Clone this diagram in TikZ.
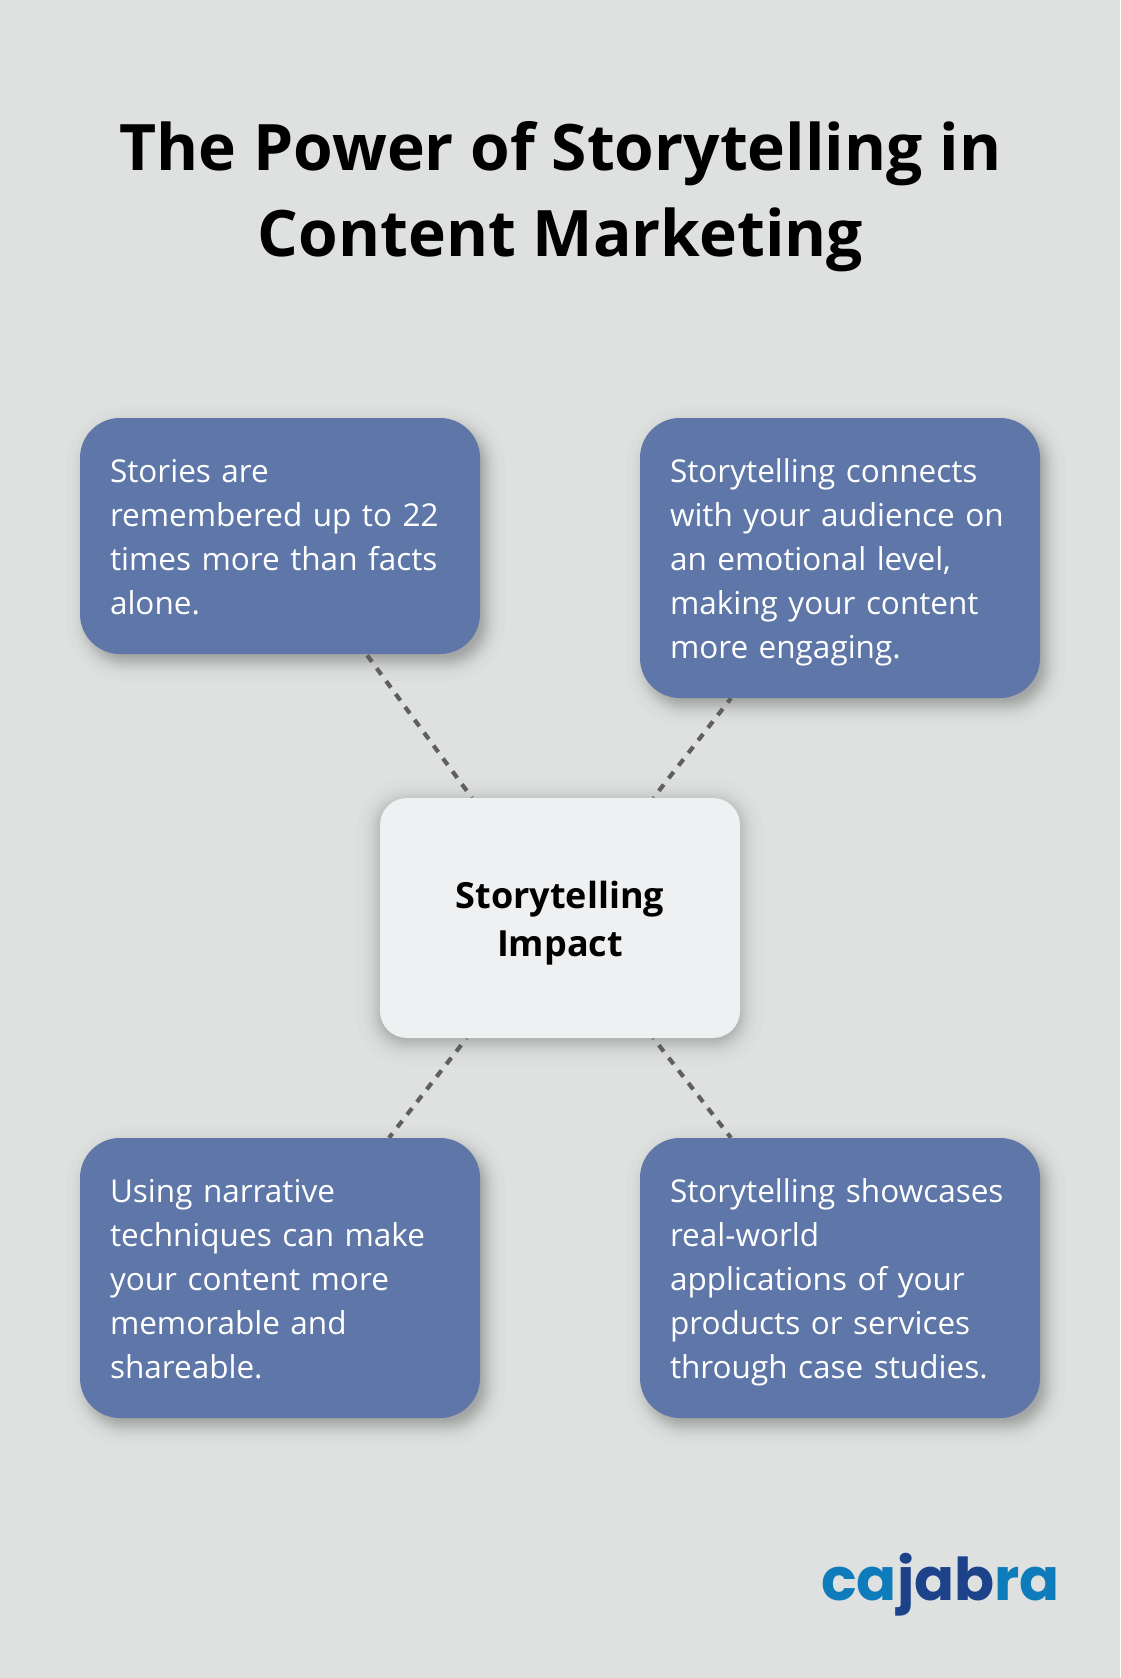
\documentclass[tikz,border=0pt]{standalone}
\usepackage{fontspec}
\setmainfont{Open Sans}
\newfontfamily\logofont{Poppins}
\usetikzlibrary{backgrounds}
\definecolor{bgc}{HTML}{DFE1E0}
\definecolor{cardc}{HTML}{5E77A8}
\definecolor{hubc}{HTML}{EFF0F2}
\definecolor{dashc}{HTML}{5F5F5F}
\definecolor{logoa}{HTML}{0E7BBB}
\definecolor{logob}{HTML}{1C428A}
\newcommand{\ctop}{\rule{0pt}{34.8pt}}
\newcommand{\cbot}{\rule[-9.2pt]{0pt}{9.2pt}}
\newcommand{\htop}{\rule{0pt}{38pt}}
\newcommand{\hbot}{\rule[-10pt]{0pt}{10pt}}
\tikzset{
 cardbox/.style={fill=cardc,text=white,rounded corners=40pt,minimum width=400pt,inner xsep=30pt,inner ysep=0pt,text width=340pt,align=left,font=\fontsize{31.5}{44}\selectfont},
 hubbox/.style={fill=hubc,text=black,rounded corners=27pt,minimum width=360pt,minimum height=240pt,inner sep=0pt,align=center,font=\fontsize{36}{48}\selectfont\bfseries},
 linkline/.style={draw=dashc,line width=4.2pt,dash pattern=on 8pt off 8pt,dash phase=7.2pt},
 titletext/.style={inner sep=0pt,align=center,font=\fontsize{64.1}{86}\selectfont\bfseries,text=black}
}
\newcommand{\softshadow}[6]{% node, ox, oy, spread, total alpha, radius
 \foreach \i in {0,...,23}{
  \pgfmathsetmacro{\uu}{(\i+0.5)/12-1}
  \pgfmathsetmacro{\dd}{#4*0.5*ln((1+\uu)/(1-\uu))}
  \pgfmathsetmacro{\rr}{max(#6+\dd,1)}
  \fill[black,opacity=#5/24,rounded corners=\rr pt]
   ([shift={({#2-\dd},{#3+\dd})}]#1.south west) rectangle ([shift={({#2+\dd},{#3-\dd})}]#1.north east);
 }}
\begin{document}
\begin{tikzpicture}[x=1pt,y=-1pt]
\useasboundingbox (0,0) rectangle (1120,1678);
\node[titletext] (title) at (560.5,196.6) {The Power of Storytelling in\\Content Marketing};
\node[cardbox,minimum height=236pt] (tl) at (280,536) {\ctop Stories are\\remembered up to 22\\times more than facts\\alone.\cbot};
\node[cardbox,minimum height=280pt] (tr) at (840,558) {\ctop Storytelling connects\\with your audience on\\an emotional level,\\making your content\\more engaging.\cbot};
\node[hubbox] (hub) at (560,918) {\htop Storytelling\\Impact\hbot};
\node[cardbox,minimum height=280pt] (bl) at (280,1278) {\ctop Using narrative\\techniques can make\\your content more\\memorable and\\shareable.\cbot};
\node[cardbox,minimum height=280pt] (br) at (840,1278) {\ctop Storytelling showcases\\real-world\\applications of your\\products or services\\through case studies.\cbot};
\node[inner sep=0pt,anchor=base east,font=\logofont\bfseries\fontsize{59}{59}\selectfont] (logo) at (1060,1600) {\textcolor{logoa}{ca}\textcolor{logob}{jab}\textcolor{logoa}{ra}};
\begin{scope}[on background layer]
 \fill[bgc] (0,0) rectangle (1120,1678);
 \softshadow{tl}{6}{8}{10}{0.32}{40}
 \softshadow{tr}{6}{8}{10}{0.32}{40}
 \softshadow{bl}{6}{8}{10}{0.32}{40}
 \softshadow{br}{6}{8}{10}{0.32}{40}
 \softshadow{hub}{0}{4}{12}{0.24}{27}
 \draw[linkline] (hub) -- (tl);
 \draw[linkline] (hub) -- (tr);
 \draw[linkline] (hub) -- (bl);
 \draw[linkline] (hub) -- (br);
\end{scope}
\end{tikzpicture}
\end{document}
